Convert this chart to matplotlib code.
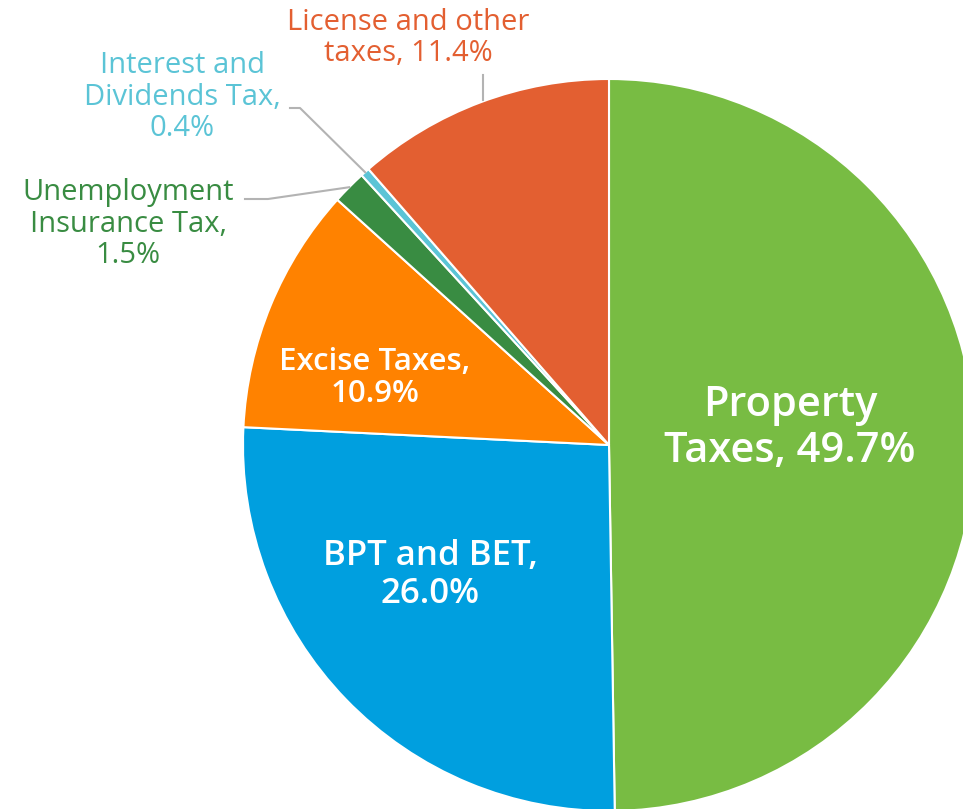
import numpy as np
import matplotlib.pyplot as plt

# revenue shares, clockwise from 12 o'clock
labels = ['Property\nTaxes, 49.7%', 'BPT and BET,\n26.0%', 'Excise Taxes,\n10.9%',
          'Unemployment\nInsurance Tax,\n1.5%', 'Interest and\nDividends Tax,\n0.4%',
          'License and other\ntaxes, 11.4%']
shares = [49.7, 26.0, 10.9, 1.5, 0.4, 11.4]
colors = ['#78bc43', '#009fdf', '#ff8200', '#398c42', '#5bc4d6', '#e35f31']

W, H = 963, 809
fig = plt.figure(figsize=(W / 100, H / 100), dpi=100)
ax = fig.add_axes([0, 0, 1, 1])

cx, cy, r = 609, H - 445, 366
wedges, _ = ax.pie(shares, colors=colors, startangle=90, counterclock=False,
                   center=(cx, cy), radius=r,
                   wedgeprops=dict(edgecolor='white', linewidth=1.5))
ax.set_xlim(0, W)
ax.set_ylim(0, H)
ax.set_aspect('equal')
ax.axis('off')

font = 'Open Sans'

# labels inside the big slices
inside = {0: (790, 428, 30), 1: (430, 575, 25), 2: (375, 378, 22.5)}
for i, (x, y, fs) in inside.items():
    ax.text(x, H - y, labels[i], ha='center', va='center', color='white',
            fontsize=fs, fontweight='semibold', family=font, linespacing=1.12)

# outside labels with leader lines
def edge_point(w, frac=1.0):
    a = np.deg2rad((w.theta1 + w.theta2) / 2)
    return cx + r * frac * np.cos(a), cy + r * frac * np.sin(a)

ax.text(408, H - 38, labels[5], ha='center', va='center', color=colors[5],
        fontsize=21, family=font, linespacing=1.13)
ax.plot([483, 483], [H - 75, H - 100], color='#b3b3b3', lw=1.5)

ax.text(182, H - 97, labels[4], ha='center', va='center', color=colors[4],
        fontsize=21, family=font, linespacing=1.13)
ex, ey = edge_point(wedges[4], 1.0)
ax.plot([290, 300, ex], [H - 108, H - 108, ey], color='#b3b3b3', lw=1.5)

ax.text(128, H - 224, labels[3], ha='center', va='center', color=colors[3],
        fontsize=21, family=font, linespacing=1.13)
ex, ey = edge_point(wedges[3], 1.0)
ax.plot([245, 268, ex], [H - 199, H - 199, ey], color='#b3b3b3', lw=1.5)

fig.savefig('out.png', dpi=100, facecolor='white')
